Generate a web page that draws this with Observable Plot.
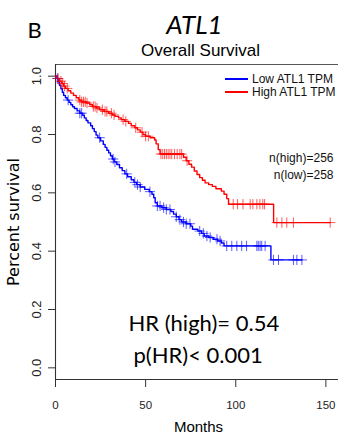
<!DOCTYPE html>
<html><head><meta charset="utf-8">
<script src="https://cdn.jsdelivr.net/npm/d3@7"></script>
<script src="https://cdn.jsdelivr.net/npm/@observablehq/plot@0.6"></script>
<style>
html,body{margin:0;padding:0;background:#fff;overflow:hidden}
#wrap{position:relative;width:338px;height:437px}
#wrap svg{display:block}
.legend{position:absolute;left:225px;top:72.5px;font-family:"Liberation Sans",Arial,sans-serif;font-size:12px;line-height:13px;color:#111}
.legend .row{display:flex;align-items:center;height:13px;white-space:nowrap}
.legend .sw{display:inline-block;width:23px;height:2px;margin-right:4px}
</style></head>
<body><div id="wrap"></div>
<script>
// ---- data ----
const groupNames = ["Low ATL1 TPM", "High ATL1 TPM"];
const groupColors = ["#0000ff", "#ff0000"];

const lowTimes = [0, 0.8, 1.5, 2.2, 3.0, 3.8, 4.5, 5.5, 6.5, 7.5, 8.5, 9.5, 10.5, 12, 13.5, 15, 16, 17, 18, 19.5, 20.5, 21.5, 22.5, 23.5, 25, 26.5, 27.5, 28.5, 29.5, 30.5, 31.5, 32.5, 34, 35.5, 37, 38.5, 40, 42, 43.5, 45, 47, 49.5, 52, 53.5, 54.5, 55.3, 56.5, 59, 61.5, 64, 65.5, 67, 68.5, 70, 72.5, 75, 76, 79, 81, 82.5, 85, 87.5, 90, 92, 93.5, 119.5, 136.7];
const lowSurv = [1.000, 0.992, 0.980, 0.969, 0.957, 0.945, 0.934, 0.926, 0.918, 0.910, 0.902, 0.895, 0.889, 0.881, 0.873, 0.866, 0.857, 0.848, 0.840, 0.830, 0.820, 0.810, 0.798, 0.789, 0.778, 0.766, 0.756, 0.746, 0.737, 0.727, 0.716, 0.706, 0.697, 0.686, 0.676, 0.665, 0.655, 0.645, 0.636, 0.628, 0.620, 0.612, 0.604, 0.595, 0.583, 0.566, 0.555, 0.549, 0.543, 0.536, 0.527, 0.518, 0.508, 0.500, 0.494, 0.486, 0.475, 0.469, 0.461, 0.452, 0.447, 0.441, 0.435, 0.428, 0.418, 0.370, 0.370];

const highTimes = [0, 1, 2.2, 3.5, 4.5, 5.5, 7, 8.5, 10, 11.5, 13, 14.5, 17, 19, 20.5, 22.5, 24.5, 27, 29.5, 31.5, 33, 35, 36.5, 38.5, 40.5, 42, 44, 45.5, 47, 48.5, 50, 52.5, 55, 55.8, 57, 58, 71, 72.5, 74, 75.5, 77, 78.5, 80, 81.5, 83, 85, 87, 89, 92, 93.5, 95, 96, 121, 152.4];
const highSurv = [1.000, 0.992, 0.983, 0.975, 0.966, 0.958, 0.950, 0.942, 0.934, 0.926, 0.918, 0.912, 0.908, 0.902, 0.896, 0.891, 0.885, 0.879, 0.873, 0.867, 0.862, 0.857, 0.851, 0.845, 0.838, 0.830, 0.823, 0.816, 0.808, 0.800, 0.794, 0.789, 0.781, 0.768, 0.748, 0.733, 0.722, 0.710, 0.698, 0.688, 0.675, 0.663, 0.652, 0.643, 0.634, 0.628, 0.622, 0.614, 0.606, 0.595, 0.580, 0.561, 0.498, 0.498];

const lowCensor = [1, 7, 13.5, 14.5, 24.5, 32, 33, 39.5, 44, 45.5, 47, 52.4, 56.5, 58, 60, 61.5, 63.5, 67, 69, 71, 72.5, 74.6, 80, 82, 84, 85.8, 89.6, 91.3, 95, 97.8, 100.6, 103.3, 106, 111.7, 112.5, 113.5, 114.4, 116.3, 120.9, 123.7, 132, 133.9, 136.7];
const highCensor = [1.5, 3, 4, 5, 6.5, 13.5, 14.5, 15.5, 16.5, 17.5, 21, 22, 23, 26, 27.5, 28.5, 31, 32.5, 37.5, 39, 44.5, 48, 50, 51.5, 58.5, 59.5, 60.5, 61.5, 62.5, 63.5, 64.5, 66, 67.5, 69, 70, 73, 98.6, 101, 104, 108, 109.5, 111.7, 113.4, 115, 116, 122.8, 125.6, 128.3, 132, 152.4];

const xTicks = [0, 50, 100, 150];
const yTicks = [0, 0.2, 0.4, 0.6, 0.8, 1.0];
const xDomain = [0, 157];
const yDomain = [-0.04, 1.04];

const panelLabel = ["B"];
const geneTitle = ["ATL1"];
const subTitle = ["Overall Survival"];
const xLabel = ["Months"];
const yLabel = ["Percent survival"];
const nLabels = ["n(high)=256", "n(low)=258"];
const statLabels = ["HR (high)= 0.54", "p(HR)< 0.001"];

// ---- build tables ----
const rows = (times, surv, group) => times.map((t, i) => ({time: t, surv: surv[i], group}));
const survAt = (times, surv, t) => { let v = surv[0]; for (let i = 0; i < times.length; i++) if (times[i] <= t) v = surv[i]; return v; };
const curveData = [...rows(lowTimes, lowSurv, groupNames[0]), ...rows(highTimes, highSurv, groupNames[1])];
const censorData = [
  ...lowCensor.map(t => ({time: t, surv: survAt(lowTimes, lowSurv, t), group: groupNames[0]})),
  ...highCensor.map(t => ({time: t, surv: survAt(highTimes, highSurv, t), group: groupNames[1]}))
];

const sans = '"Liberation Sans",Arial,sans-serif';
const calib = 'Lato,"Open Sans",sans-serif';

const chart = Plot.plot({
  width: 338, height: 437,
  marginTop: 64, marginBottom: 58, marginLeft: 55, marginRight: 0,
  style: {fontFamily: sans, fontSize: "11px", color: "#222", background: "white"},
  x: {domain: xDomain},
  y: {domain: yDomain},
  color: {domain: groupNames, range: groupColors},
  marks: [
    Plot.ruleY([yDomain[1]], {stroke: "#555", strokeWidth: 1.2}),
    Plot.ruleY([yDomain[0]], {stroke: "#333", strokeWidth: 1.1}),
    Plot.ruleX([xDomain[0]], {stroke: "#333", strokeWidth: 1.1}),
    Plot.axisX(xTicks, {tickSize: 8, tickPadding: 13, label: null, fontSize: 11.5, stroke: "#333"}),
    Plot.axisY(yTicks, {tickSize: 7, tickPadding: 8, tickRotate: -90, tickFormat: d3.format(".1f"), label: null, fontFamily: sans, fontSize: 13, stroke: "#333"}),
    Plot.line(curveData, {x: "time", y: "surv", z: "group", stroke: "group", curve: "step-after", strokeWidth: 1.4}),
    Plot.dot(censorData, {x: "time", y: "surv", stroke: "group", symbol: "plus", r: 3.4, strokeWidth: 1, strokeOpacity: 0.65}),
    Plot.text(panelLabel, {text: d => d, frameAnchor: "top-left", dx: -28, dy: -42, lineAnchor: "top", textAnchor: "start", fontFamily: calib, fontSize: 22, fill: "#000"}),
    Plot.text(geneTitle, {text: d => d, frameAnchor: "top-left", dx: 139, dy: -49, lineAnchor: "top", textAnchor: "middle", fontFamily: calib, fontStyle: "italic", fontSize: 26, fill: "#000"}),
    Plot.text(subTitle, {text: d => d, frameAnchor: "top-left", dx: 145, dy: -21, lineAnchor: "top", textAnchor: "middle", fontFamily: sans, fontSize: 17, fill: "#000"}),
    Plot.text(xLabel, {text: d => d, frameAnchor: "bottom-left", dx: 143, dy: 42, lineAnchor: "top", textAnchor: "middle", fontFamily: sans, fontSize: 15, fill: "#000"}),
    Plot.text(yLabel, {text: d => d, frameAnchor: "left", dx: -37, rotate: -90, lineAnchor: "bottom", textAnchor: "middle", fontFamily: '"DejaVu Sans",sans-serif', fontSize: 16, fill: "#000"}),
    Plot.text([nLabels[0]], {text: d => d, frameAnchor: "top-left", dx: 278, dy: 89, lineAnchor: "top", textAnchor: "end", fontFamily: sans, fontSize: 12, fill: "#111"}),
    Plot.text([nLabels[1]], {text: d => d, frameAnchor: "top-left", dx: 278, dy: 106, lineAnchor: "top", textAnchor: "end", fontFamily: sans, fontSize: 12, fill: "#111"}),
    Plot.text([statLabels[0]], {text: d => d, frameAnchor: "top-left", dx: 73, dy: 251, lineAnchor: "top", textAnchor: "start", fontFamily: calib, fontSize: 22, fill: "#000"}),
    Plot.text([statLabels[1]], {text: d => d, frameAnchor: "top-left", dx: 78, dy: 283, lineAnchor: "top", textAnchor: "start", fontFamily: calib, fontSize: 22, fill: "#000"})
  ]
});

const wrap = document.getElementById("wrap");
wrap.appendChild(chart);

const legend = document.createElement("div");
legend.className = "legend";
groupNames.forEach((name, i) => {
  const row = document.createElement("div");
  row.className = "row";
  const sw = document.createElement("span");
  sw.className = "sw";
  sw.style.background = groupColors[i];
  const lab = document.createElement("span");
  lab.textContent = name;
  row.appendChild(sw); row.appendChild(lab);
  legend.appendChild(row);
});
wrap.appendChild(legend);
</script>
</body></html>
